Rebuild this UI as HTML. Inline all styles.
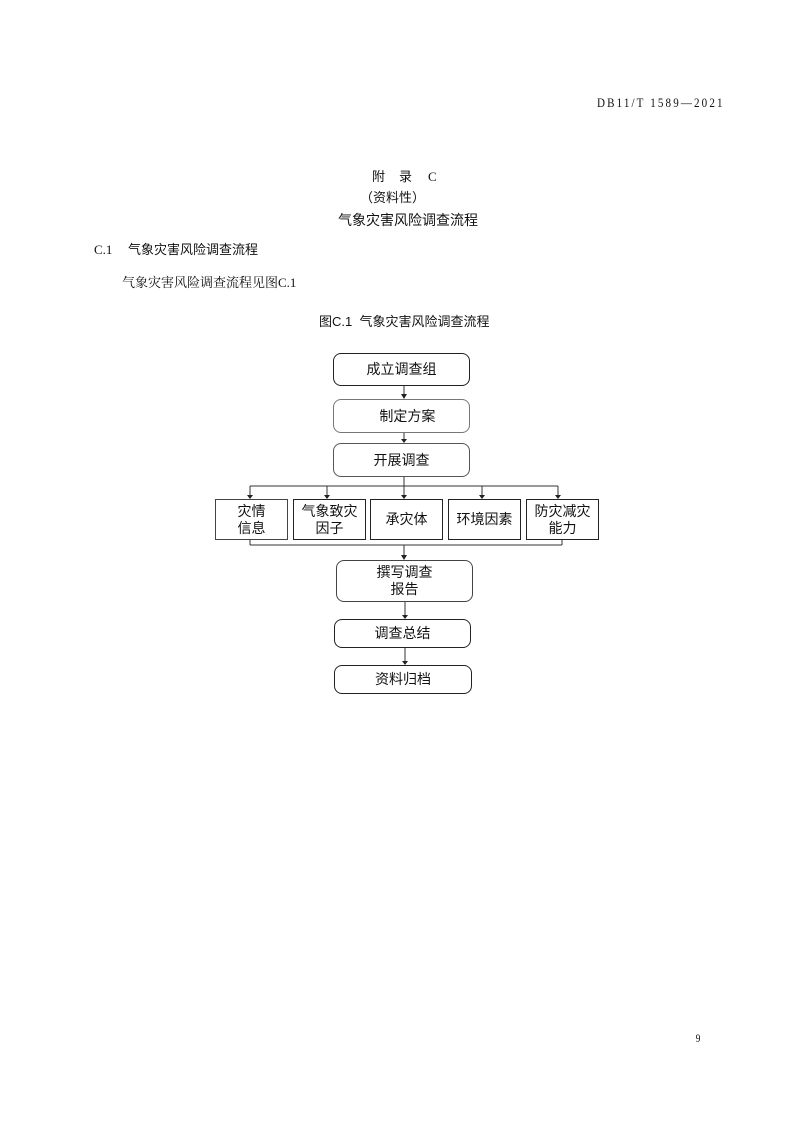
<!DOCTYPE html>
<html><head><meta charset="utf-8"><style>
body{margin:0;width:793px;height:1123px;background:#fff;position:relative;font-family:"Liberation Sans","Noto Sans CJK SC",sans-serif;color:#111}
.t{position:absolute;white-space:nowrap;line-height:1}
.b{position:absolute;border:1.3px solid #222;box-sizing:border-box;display:flex;align-items:center;justify-content:center;text-align:center;font-size:14px;line-height:17px}
.r{border-radius:8px}
.serif{font-family:"Liberation Serif","Noto Serif CJK SC",serif}
</style></head><body>
<div class="t serif" style="left:597px;top:96px;font-size:13px;letter-spacing:2.5px;transform:scaleX(0.85);transform-origin:left">DB11/T 1589—2021</div>
<div class="t" style="left:372px;top:170px;font-size:13px">附</div>
<div class="t" style="left:399px;top:170px;font-size:13px">录</div>
<div class="t serif" style="left:428px;top:170px;font-size:13px">C</div>
<div class="t" style="left:360px;top:191px;font-size:13px">（资料性）</div>
<div class="t" style="left:338px;top:213px;font-size:14px">气象灾害风险调查流程</div>
<div class="t serif" style="left:94px;top:243px;font-size:13px">C.1</div>
<div class="t" style="left:128px;top:243px;font-size:13px">气象灾害风险调查流程</div>
<div class="t serif" style="left:122px;top:276px;font-size:13px">气象灾害风险调查流程见图C.1</div>
<div class="t" style="left:319px;top:315px;font-size:13px">图C.1&nbsp;&nbsp;气象灾害风险调查流程</div>
<svg style="position:absolute;left:0;top:0" width="793" height="1123">
<g stroke="#333" stroke-width="1" fill="none">
<line x1="404" y1="386" x2="404" y2="395"/>
<line x1="404" y1="433" x2="404" y2="439"/>
<line x1="404" y1="477" x2="404" y2="486"/>
<line x1="250" y1="486" x2="558" y2="486"/>
<line x1="250" y1="486" x2="250" y2="495"/>
<line x1="327" y1="486" x2="327" y2="495"/>
<line x1="404" y1="486" x2="404" y2="495"/>
<line x1="482" y1="486" x2="482" y2="495"/>
<line x1="558" y1="486" x2="558" y2="495"/>
<line x1="250" y1="540" x2="250" y2="545"/>
<line x1="562" y1="540" x2="562" y2="545"/>
<line x1="250" y1="545" x2="562" y2="545"/>
<line x1="404" y1="545" x2="404" y2="556"/>
<line x1="405" y1="602" x2="405" y2="615"/>
<line x1="405" y1="648" x2="405" y2="661"/>
</g>
<g fill="#222">
<polygon points="401,394 407,394 404,399"/>
<polygon points="401,439 407,439 404,443"/>
<polygon points="247,495 253,495 250,499"/>
<polygon points="324,495 330,495 327,499"/>
<polygon points="401,495 407,495 404,499"/>
<polygon points="479,495 485,495 482,499"/>
<polygon points="555,495 561,495 558,499"/>
<polygon points="401,555 407,555 404,560"/>
<polygon points="402,615 408,615 405,619"/>
<polygon points="402,661 408,661 405,665"/>
</g>
</svg>
<div class="b r" style="left:333px;top:353px;width:137px;height:33px">成立调查组</div>
<div class="b r" style="left:333px;top:399px;width:137px;height:34px;border-color:#777">&nbsp;&nbsp;&nbsp;制定方案</div>
<div class="b r" style="left:333px;top:443px;width:137px;height:34px;border-color:#555">开展调查</div>
<div class="b" style="left:215px;top:499px;width:73px;height:41px;border-color:#444">灾情<br>信息</div>
<div class="b" style="left:293px;top:499px;width:73px;height:41px">气象致灾<br>因子</div>
<div class="b" style="left:370px;top:499px;width:73px;height:41px">承灾体</div>
<div class="b" style="left:448px;top:499px;width:73px;height:41px">环境因素</div>
<div class="b" style="left:526px;top:499px;width:73px;height:41px">防灾减灾<br>能力</div>
<div class="b r" style="left:336px;top:560px;width:137px;height:42px;border-color:#444">撰写调查<br>报告</div>
<div class="b r" style="left:334px;top:619px;width:137px;height:29px">调查总结</div>
<div class="b r" style="left:334px;top:665px;width:138px;height:29px">资料归档</div>
<div class="t serif" style="left:695px;top:1032px;font-size:12px;transform:scaleX(0.8)">9</div>
</body></html>
